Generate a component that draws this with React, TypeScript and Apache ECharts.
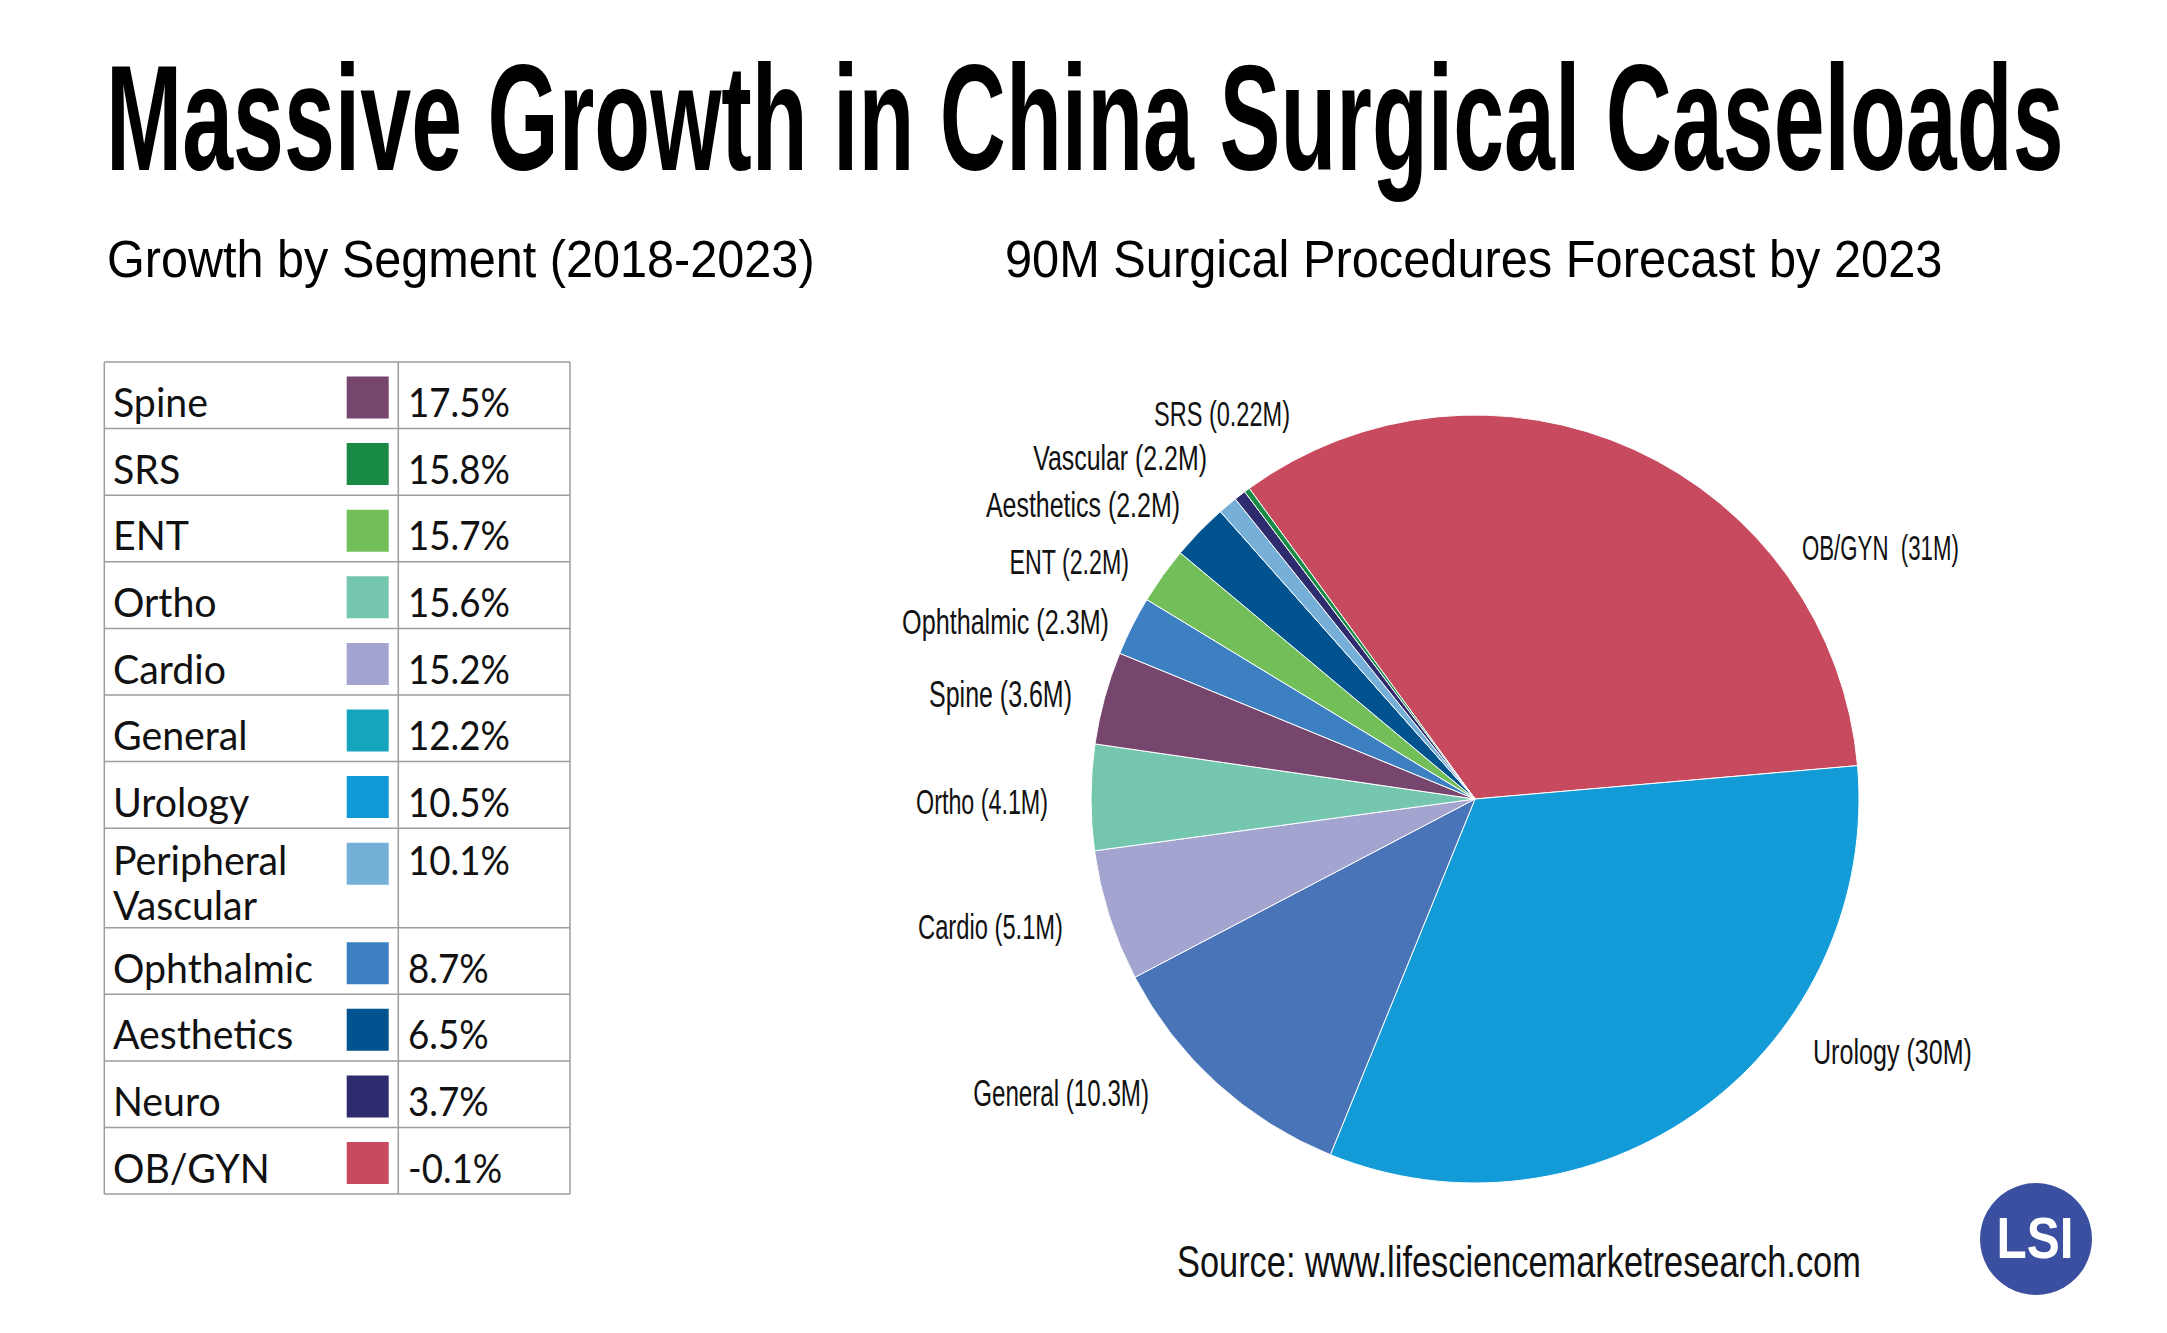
import React, { useEffect, useRef } from "react";
import * as echarts from "echarts";

// ---------- DATA ----------
const tableSegments = [
  "Spine",
  "SRS",
  "ENT",
  "Ortho",
  "Cardio",
  "General",
  "Urology",
  "Peripheral\nVascular",
  "Ophthalmic",
  "Aesthetics",
  "Neuro",
  "OB/GYN",
];
const tableGrowth = [
  "17.5%",
  "15.8%",
  "15.7%",
  "15.6%",
  "15.2%",
  "12.2%",
  "10.5%",
  "10.1%",
  "8.7%",
  "6.5%",
  "3.7%",
  "-0.1%",
];
const tableColors = [
  "#77466F",
  "#188A45",
  "#72BF5A",
  "#74C6AE",
  "#A4A4D1",
  "#17A5BE",
  "#1199D8",
  "#74AFD8",
  "#3C80C2",
  "#00538F",
  "#2E2B6F",
  "#C84A5E",
];

const pieNames = [
  "OB/GYN",
  "Urology",
  "General",
  "Cardio",
  "Ortho",
  "Spine",
  "Ophthalmic",
  "ENT",
  "Aesthetics",
  "Vascular",
  "Neuro",
  "SRS",
];
// slice sizes in millions of procedures
const pieValues = [31, 30, 10.3, 5.1, 4.1, 3.6, 2.3, 2.2, 2.2, 0.75, 0.45, 0.22];
const pieLabelTexts = [
  "OB/GYN  (31M)",
  "Urology (30M)",
  "General (10.3M)",
  "Cardio (5.1M)",
  "Ortho (4.1M)",
  "Spine (3.6M)",
  "Ophthalmic (2.3M)",
  "ENT (2.2M)",
  "Aesthetics (2.2M)",
  "Vascular (2.2M)",
  "",
  "SRS (0.22M)",
];
const pieColors = [
  "#C74A5F",
  "#129BD7",
  "#4A74B8",
  "#A4A4D0",
  "#74C6AE",
  "#77466F",
  "#3C80C2",
  "#72BF5A",
  "#00538F",
  "#76B0D8",
  "#2E2B6F",
  "#1A8B46",
];

const titleText = "Massive Growth in China Surgical Caseloads";
const leftSubtitle = "Growth by Segment (2018-2023)";
const rightSubtitle = "90M Surgical Procedures Forecast by 2023";
const sourceText = "Source: www.lifesciencemarketresearch.com";
const logoText = "LSI";

// ---------- LAYOUT ----------
const W = 2167;
const H = 1333;
const PIE_CENTER = [1475, 799];
const PIE_RADIUS = 384;
// label anchor per pie slice: [x, y, align, width]
const pieLabelAnchors: any[] = [
  [1802, 547, "left", 157],
  [1813, 1052, "left", 159],
  [1149, 1093, "right", 176],
  [1063, 926, "right", 145],
  [1048, 802, "right", 132],
  [1072, 695, "right", 143],
  [1109, 622, "right", 207],
  [1129, 562, "right", 120],
  [1180, 505, "right", 194],
  [1207, 458, "right", 174],
  null,
  [1290, 413, "right", 136],
];

const CONDENSED = "'Liberation Sans Narrow', 'Liberation Sans', Arial, sans-serif";
const SANS = "'Liberation Sans', Arial, sans-serif";
const TABLE_FONT = "Lato, 'Noto Sans', sans-serif";

let measureCtx: CanvasRenderingContext2D | null = null;
function measure(text: string, weight: string, size: number, family: string) {
  if (!measureCtx) measureCtx = document.createElement("canvas").getContext("2d");
  measureCtx!.font = `${weight} ${size}px ${family}`;
  return measureCtx!.measureText(text).width;
}

function fittedText(
  text: string,
  x: number,
  y: number,
  targetWidth: number,
  size: number,
  family: string,
  weight: string,
  align: string,
  fill: string,
  extra: any = {}
) {
  const w = measure(text, weight, size, family);
  const sx = w > 0 ? targetWidth / w : 1;
  return {
    type: "text",
    x,
    y,
    scaleX: sx,
    scaleY: 1,
    silent: true,
    style: {
      text,
      x: 0,
      y: 0,
      fill,
      fontSize: size,
      fontFamily: family,
      fontWeight: weight,
      align,
      verticalAlign: "middle",
      ...extra,
    },
  };
}

function buildGraphic() {
  const g: any[] = [];

  // Title
  g.push(fittedText(titleText, 106, 118, 1958, 150, CONDENSED, "bold", "left", "#000"));
  // Subtitles
  g.push(fittedText(leftSubtitle, 107, 260, 708, 51, SANS, "normal", "left", "#000"));
  g.push(fittedText(rightSubtitle, 1005, 260, 938, 51, SANS, "normal", "left", "#000"));

  // Table
  const tLeft = 104.3;
  const tDiv = 398.3;
  const tRight = 570;
  const tTop = 362;
  const singleH = 66.6;
  const doubleH = 99.5;
  const lineColor = "#9d9d9d";
  const labelSize = 40;
  const labelScale = 200 / measure("Ophthalmic", "normal", labelSize, TABLE_FONT);
  const valueScale = 102 / measure("17.5%", "normal", labelSize, TABLE_FONT);

  let y = tTop;
  const boundaries: number[] = [y];
  tableSegments.forEach((seg, i) => {
    const lines = seg.split("\n");
    const h = lines.length > 1 ? doubleH : singleH;
    g.push({
      type: "rect",
      silent: true,
      shape: { x: 346.7, y: y + 14.5, width: 42, height: 42 },
      style: { fill: tableColors[i] },
    });
    lines.forEach((ln, j) => {
      const cy = lines.length > 1 ? y + 31 + 45 * j : y + 39.5;
      g.push({
        type: "text",
        x: 113,
        y: cy,
        scaleX: labelScale,
        silent: true,
        style: {
          text: ln,
          x: 0,
          y: 0,
          fill: "#111",
          fontSize: labelSize,
          fontFamily: TABLE_FONT,
          align: "left",
          verticalAlign: "middle",
        },
      });
    });
    const vy = lines.length > 1 ? y + 31 : y + 39.5;
    g.push({
      type: "text",
      x: 408,
      y: vy,
      scaleX: valueScale,
      silent: true,
      style: {
        text: tableGrowth[i],
        x: 0,
        y: 0,
        fill: "#111",
        fontSize: labelSize,
        fontFamily: TABLE_FONT,
        align: "left",
        verticalAlign: "middle",
      },
    });
    y += h;
    boundaries.push(y);
  });
  const tBottom = y;
  boundaries.forEach((by) => {
    g.push({
      type: "line",
      silent: true,
      shape: { x1: tLeft, y1: by, x2: tRight, y2: by },
      style: { stroke: lineColor, lineWidth: 1.5 },
    });
  });
  [tLeft, tDiv, tRight].forEach((bx) => {
    g.push({
      type: "line",
      silent: true,
      shape: { x1: bx, y1: tTop, x2: bx, y2: tBottom },
      style: { stroke: lineColor, lineWidth: 1.5 },
    });
  });

  // Pie labels
  const pieLabelSize = 36;
  pieLabelTexts.forEach((t, i) => {
    const a = pieLabelAnchors[i];
    if (!t || !a) return;
    g.push(fittedText(t, a[0], a[1], a[3], pieLabelSize, CONDENSED, "normal", a[2], "#111"));
  });

  // Source
  g.push(fittedText(sourceText, 1177, 1261, 684, 45, CONDENSED, "normal", "left", "#111"));

  // Logo
  g.push({
    type: "circle",
    silent: true,
    shape: { cx: 2036, cy: 1239, r: 56 },
    style: { fill: "#3A4F9F" },
  });
  g.push(fittedText(logoText, 2035, 1238, 77, 58, SANS, "bold", "center", "#fff"));

  return g;
}

export default function App() {
  const ref = useRef<HTMLDivElement>(null);
  useEffect(() => {
    if (!ref.current) return;
    const chart = echarts.init(ref.current, null, { renderer: "svg" });
    chart.setOption({
      animation: false,
      backgroundColor: "#ffffff",
      series: [
        {
          type: "pie",
          center: PIE_CENTER,
          radius: PIE_RADIUS,
          startAngle: 126,
          clockwise: true,
          silent: true,
          label: { show: false },
          labelLine: { show: false },
          emphasis: { disabled: true },
          itemStyle: { borderColor: "#ffffff", borderWidth: 1 },
          data: pieNames.map((n, i) => ({
            name: n,
            value: pieValues[i],
            itemStyle: { color: pieColors[i] },
          })),
        },
      ],
      graphic: buildGraphic(),
    });
    return () => chart.dispose();
  }, []);
  return (
    <div
      ref={ref}
      style={{
        position: "absolute",
        left: 0,
        top: 0,
        width: W,
        height: H,
        background: "#fff",
      }}
    />
  );
}
